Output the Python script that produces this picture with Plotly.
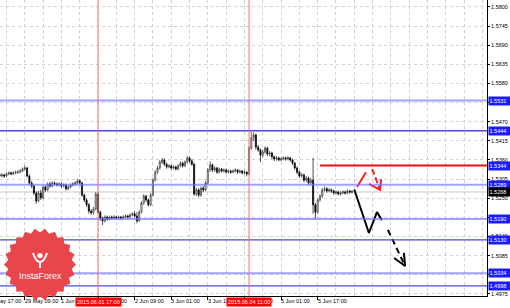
import math
import plotly.graph_objects as go

# ---------------- data ----------------
START_BAR = 5
FIRST_OPEN = 1.5318
CLOSE = [
    1.5314, 1.5317, 1.5314, 1.5320, 1.5323, 1.5320, 1.5323, 1.5325, 1.5325, 1.5328,
    1.5334, 1.5337, 1.5314, 1.5294, 1.5285, 1.5265, 1.5242, 1.5265, 1.5251, 1.5282,
    1.5274, 1.5291, 1.5285, 1.5294, 1.5291, 1.5288, 1.5291, 1.5285, 1.5288, 1.5277,
    1.5282, 1.5288, 1.5291, 1.5294, 1.5300, 1.5294, 1.5259, 1.5245, 1.5231, 1.5213,
    1.5208, 1.5219, 1.5262, 1.5210, 1.5193, 1.5185, 1.5196, 1.5190, 1.5196, 1.5193,
    1.5196, 1.5193, 1.5196, 1.5193, 1.5196, 1.5199, 1.5196, 1.5202, 1.5205, 1.5199,
    1.5185, 1.5210, 1.5236, 1.5256, 1.5245, 1.5231, 1.5259, 1.5302, 1.5325, 1.5337,
    1.5354, 1.5360, 1.5348, 1.5340, 1.5343, 1.5337, 1.5340, 1.5334, 1.5343, 1.5351,
    1.5343, 1.5354, 1.5366, 1.5357, 1.5348, 1.5262, 1.5274, 1.5259, 1.5279, 1.5274,
    1.5294, 1.5331, 1.5346, 1.5331, 1.5337, 1.5325, 1.5334, 1.5328, 1.5331, 1.5325,
    1.5328, 1.5325, 1.5328, 1.5331, 1.5325, 1.5328, 1.5323, 1.5325, 1.5320, 1.5394,
    1.5423, 1.5432, 1.5397, 1.5389, 1.5374, 1.5383, 1.5394, 1.5377, 1.5380, 1.5369,
    1.5363, 1.5366, 1.5360, 1.5363, 1.5366, 1.5363, 1.5366, 1.5360, 1.5351, 1.5337,
    1.5325, 1.5314, 1.5317, 1.5302, 1.5308, 1.5294, 1.5302, 1.5231, 1.5210, 1.5245,
    1.5256, 1.5274, 1.5277, 1.5271, 1.5274, 1.5271, 1.5265, 1.5268, 1.5262, 1.5265,
    1.5268, 1.5265, 1.5271, 1.5268, 1.5268,
]
HIGH = [
    1.5323, 1.5322, 1.5320, 1.5325, 1.5327, 1.5326, 1.5328, 1.5330, 1.5331, 1.5334,
    1.5339, 1.5345, 1.5340, 1.5318, 1.5299, 1.5290, 1.5270, 1.5271, 1.5274, 1.5288,
    1.5287, 1.5296, 1.5297, 1.5299, 1.5298, 1.5295, 1.5296, 1.5295, 1.5293, 1.5292,
    1.5287, 1.5293, 1.5296, 1.5299, 1.5306, 1.5304, 1.5297, 1.5263, 1.5250, 1.5236,
    1.5218, 1.5225, 1.5268, 1.5266, 1.5214, 1.5197, 1.5201, 1.5200, 1.5200, 1.5200,
    1.5201, 1.5200, 1.5200, 1.5199, 1.5201, 1.5203, 1.5203, 1.5206, 1.5210, 1.5212,
    1.5210, 1.5216, 1.5242, 1.5262, 1.5260, 1.5249, 1.5265, 1.5308, 1.5331, 1.5343,
    1.5360, 1.5366, 1.5364, 1.5352, 1.5348, 1.5347, 1.5345, 1.5344, 1.5348, 1.5356,
    1.5355, 1.5359, 1.5372, 1.5370, 1.5362, 1.5352, 1.5280, 1.5279, 1.5284, 1.5285,
    1.5300, 1.5337, 1.5357, 1.5350, 1.5342, 1.5340, 1.5338, 1.5337, 1.5336, 1.5335,
    1.5333, 1.5332, 1.5333, 1.5336, 1.5334, 1.5333, 1.5331, 1.5330, 1.5328, 1.5400,
    1.5441, 1.5440, 1.5436, 1.5403, 1.5393, 1.5389, 1.5399, 1.5398, 1.5386, 1.5384,
    1.5373, 1.5371, 1.5370, 1.5368, 1.5370, 1.5370, 1.5372, 1.5369, 1.5364, 1.5355,
    1.5341, 1.5329, 1.5323, 1.5321, 1.5314, 1.5312, 1.5308, 1.5366, 1.5236, 1.5250,
    1.5262, 1.5280, 1.5284, 1.5282, 1.5280, 1.5278, 1.5275, 1.5273, 1.5271, 1.5270,
    1.5273, 1.5272, 1.5276, 1.5274, 1.5273,
]
LOW = [
    1.5309, 1.5310, 1.5308, 1.5311, 1.5316, 1.5316, 1.5317, 1.5319, 1.5320, 1.5322,
    1.5325, 1.5330, 1.5310, 1.5289, 1.5279, 1.5259, 1.5234, 1.5238, 1.5245, 1.5247,
    1.5268, 1.5270, 1.5280, 1.5281, 1.5286, 1.5284, 1.5284, 1.5280, 1.5281, 1.5272,
    1.5273, 1.5279, 1.5284, 1.5287, 1.5290, 1.5289, 1.5254, 1.5239, 1.5225, 1.5206,
    1.5202, 1.5203, 1.5215, 1.5205, 1.5185, 1.5173, 1.5180, 1.5185, 1.5186, 1.5189,
    1.5189, 1.5188, 1.5189, 1.5188, 1.5189, 1.5192, 1.5191, 1.5193, 1.5198, 1.5195,
    1.5178, 1.5182, 1.5206, 1.5231, 1.5239, 1.5226, 1.5228, 1.5254, 1.5298, 1.5320,
    1.5332, 1.5349, 1.5343, 1.5335, 1.5336, 1.5332, 1.5333, 1.5330, 1.5330, 1.5339,
    1.5338, 1.5339, 1.5350, 1.5352, 1.5343, 1.5257, 1.5256, 1.5253, 1.5254, 1.5268,
    1.5270, 1.5290, 1.5326, 1.5325, 1.5326, 1.5320, 1.5321, 1.5324, 1.5324, 1.5321,
    1.5321, 1.5320, 1.5322, 1.5324, 1.5320, 1.5321, 1.5318, 1.5318, 1.5313, 1.5316,
    1.5389, 1.5415, 1.5390, 1.5383, 1.5354, 1.5368, 1.5378, 1.5371, 1.5370, 1.5363,
    1.5357, 1.5358, 1.5356, 1.5356, 1.5359, 1.5358, 1.5359, 1.5355, 1.5346, 1.5332,
    1.5319, 1.5308, 1.5309, 1.5296, 1.5297, 1.5288, 1.5289, 1.5205, 1.5190, 1.5205,
    1.5240, 1.5251, 1.5269, 1.5266, 1.5267, 1.5266, 1.5260, 1.5261, 1.5258, 1.5258,
    1.5261, 1.5260, 1.5261, 1.5263, 1.5264,
]
OPEN = [FIRST_OPEN] + CLOSE[:-1]
BARS = list(range(START_BAR, START_BAR + len(CLOSE)))

LEVELS_LIGHT = [1.5531, 1.5289, 1.5190, 1.5034]
LEVELS_DARK = [1.5444, 1.5130, 1.4998]
CURRENT_PRICE = 1.5268
RESIST_LEVEL = 1.5344
RESIST_START_BAR = 145

VLINE_BARS = [48, 114]
VLINE_LABELS = ["2015.06.01 17:00", "2015.06.04 11:00"]

X_TICK_BARS = [0, 16, 32, 48, 64, 80, 96, 112, 128, 144]
X_TICK_LABELS = ["28 May 17:00", "29 May 09:00", "1 Jun 01:00", "1 Jun 17:00",
                 "2 Jun 09:00", "3 Jun 01:00", "3 Jun 17:00", "4 Jun 09:00",
                 "5 Jun 01:00", "5 Jun 17:00"]
Y_TICKS = [1.5800, 1.5745, 1.5690, 1.5635, 1.5580, 1.5525, 1.5470, 1.5415,
           1.5360, 1.5305, 1.5250, 1.5195, 1.5140, 1.5085, 1.5030, 1.4975]

# forecast sketch (bar index, price)
PROJ_SOLID_X = [160, 166.4, 169.9, 172.1]
PROJ_SOLID_Y = [1.5275, 1.5150, 1.5210, 1.5187]
PROJ_DASH_X = [174.7, 182.2]
PROJ_DASH_Y = [1.5159, 1.5055]
PROJ_HEAD_X = [177.4, 182.2, 181.7]
PROJ_HEAD_Y = [1.5078, 1.5055, 1.5093]
RED_UP_X = [161.2, 165.1]
RED_UP_Y = [1.5282, 1.5325]
RED_DOWN_X = [167.8, 171.3]
RED_DOWN_Y = [1.5334, 1.5274]
RED_HEAD_X = [166.4, 171.3, 171.7]
RED_HEAD_Y = [1.5291, 1.5274, 1.5305]

X_RANGE = [5.17, 218.0]
Y_RANGE = [1.49688, 1.58201]

FONT = "Liberation Sans"
W, H = 510, 308
ML, MR, MT, MB = 0, 23, 0, 12
PW, PH = W - ML - MR, H - MT - MB

fig = go.Figure()

fig.add_trace(go.Candlestick(
    x=BARS, open=OPEN, high=HIGH, low=LOW, close=CLOSE,
    increasing=dict(line=dict(color="#303030", width=0.7), fillcolor="#ffffff"),
    decreasing=dict(line=dict(color="#000000", width=0.7), fillcolor="#000000"),
    whiskerwidth=0, showlegend=False, hoverinfo="skip",
))

# forecast sketch lines
fig.add_trace(go.Scatter(x=PROJ_SOLID_X, y=PROJ_SOLID_Y, mode="lines",
                         line=dict(color="black", width=2), showlegend=False, hoverinfo="skip"))
fig.add_trace(go.Scatter(x=PROJ_DASH_X, y=PROJ_DASH_Y, mode="lines",
                         line=dict(color="black", width=2, dash="6px,4px"), showlegend=False, hoverinfo="skip"))
fig.add_trace(go.Scatter(x=PROJ_HEAD_X, y=PROJ_HEAD_Y, mode="lines",
                         line=dict(color="black", width=2), showlegend=False, hoverinfo="skip"))
fig.add_trace(go.Scatter(x=RED_UP_X, y=RED_UP_Y, mode="lines",
                         line=dict(color="#ff2020", width=2), showlegend=False, hoverinfo="skip"))
fig.add_trace(go.Scatter(x=RED_DOWN_X, y=RED_DOWN_Y, mode="lines",
                         line=dict(color="#ff2020", width=2, dash="6px,3px"), showlegend=False, hoverinfo="skip"))
fig.add_trace(go.Scatter(x=RED_HEAD_X, y=RED_HEAD_Y, mode="lines",
                         line=dict(color="#ff2020", width=2), showlegend=False, hoverinfo="skip"))

shapes = []
# current price line
shapes.append(dict(type="line", xref="paper", x0=0, x1=1, yref="y", y0=CURRENT_PRICE, y1=CURRENT_PRICE,
                   line=dict(color="#c8c8c8", width=1), layer="below"))
for lv in LEVELS_LIGHT:
    shapes.append(dict(type="line", xref="paper", x0=0, x1=1, yref="y", y0=lv, y1=lv,
                       line=dict(color="rgba(110,110,255,0.65)", width=2), layer="above"))
for lv in LEVELS_DARK:
    shapes.append(dict(type="line", xref="paper", x0=0, x1=1, yref="y", y0=lv, y1=lv,
                       line=dict(color="#4a4ad8", width=1.3), layer="above"))
shapes.append(dict(type="line", xref="x", x0=RESIST_START_BAR, x1=X_RANGE[1], yref="y",
                   y0=RESIST_LEVEL, y1=RESIST_LEVEL, line=dict(color="#e81010", width=2), layer="above"))
for b in VLINE_BARS:
    shapes.append(dict(type="line", xref="x", x0=b, x1=b, yref="paper", y0=0, y1=1,
                       line=dict(color="rgba(255,110,110,0.5)", width=2), layer="above"))

# InstaForex badge (pixel geometry -> paper)
def px2paper(px, py):
    return px / PW, (PH - py) / PH

cx, cy, R_out, R_in, N = 40, 264.5, 36, 32, 22
pts = []
for i in range(2 * N):
    a = math.pi * i / N
    r = R_out if i % 2 == 0 else R_in
    pts.append(px2paper(cx + r * math.cos(a), cy + r * math.sin(a)))
path = "M " + " L ".join(f"{x:.5f},{y:.5f}" for x, y in pts) + " Z"
shapes.append(dict(type="path", xref="paper", yref="paper", path=path,
                   fillcolor="#e8464a", line=dict(width=0), layer="above"))
# icon
hx, hy = px2paper(40, 255.5)
r = 2.6
shapes.append(dict(type="circle", xref="paper", yref="paper",
                   x0=hx - r / PW, x1=hx + r / PW, y0=hy - r / PH, y1=hy + r / PH,
                   fillcolor="white", line=dict(width=0), layer="above"))
a1 = px2paper(33, 253); a2 = px2paper(36, 262); a3 = px2paper(40, 262)
a4 = px2paper(44, 262); a5 = px2paper(47, 253); s1 = px2paper(40, 268)
icon_path = (f"M {a1[0]:.5f},{a1[1]:.5f} Q {a2[0]:.5f},{a2[1]:.5f} {a3[0]:.5f},{a3[1]:.5f} "
             f"Q {a4[0]:.5f},{a4[1]:.5f} {a5[0]:.5f},{a5[1]:.5f} M {a3[0]:.5f},{a3[1]:.5f} L {s1[0]:.5f},{s1[1]:.5f}")
shapes.append(dict(type="path", xref="paper", yref="paper", path=icon_path,
                   line=dict(color="white", width=2), layer="above"))

annotations = []
tx, ty = px2paper(40, 275.5)
annotations.append(dict(xref="paper", yref="paper", x=tx, y=ty, text="InstaForex", showarrow=False,
                        font=dict(family=FONT, size=9, color="white"), xanchor="center", yanchor="middle"))

def bar2paper(b):
    return (b - X_RANGE[0]) / (X_RANGE[1] - X_RANGE[0])

for b, lab in zip(X_TICK_BARS, X_TICK_LABELS):
    annotations.append(dict(xref="paper", yref="paper", x=bar2paper(b), y=0, text=lab, showarrow=False,
                            xanchor="left", yanchor="top", yshift=-1, xshift=-1, borderpad=0,
                            font=dict(family=FONT, size=5.5, color="black")))
for b, lab in zip(VLINE_BARS, VLINE_LABELS):
    annotations.append(dict(xref="x", yref="paper", x=b, y=0, text=lab, showarrow=False,
                            xanchor="center", yanchor="top", yshift=-1, borderpad=1,
                            bgcolor="#ff0000", font=dict(family=FONT, size=5.5, color="white")))

for lv in LEVELS_LIGHT + LEVELS_DARK + [RESIST_LEVEL]:
    annotations.append(dict(xref="paper", yref="y", x=1, y=lv, text=f"{lv:.4f}", showarrow=False,
                            xanchor="left", yanchor="middle", xshift=1, width=20, height=7,
                            align="left", borderpad=0.5, bgcolor="#1c1cff",
                            font=dict(family=FONT, size=5.5, color="white")))
annotations.append(dict(xref="paper", yref="y", x=1, y=CURRENT_PRICE, text=f"{CURRENT_PRICE:.4f}",
                        showarrow=False, xanchor="left", yanchor="middle", xshift=1, width=20, height=7,
                        align="left", borderpad=0.5, bgcolor="#000000",
                        font=dict(family=FONT, size=5.5, color="white")))

grid_col = "#d2d2d2"
fig.update_layout(
    width=W, height=H,
    margin=dict(l=ML, r=MR, t=MT, b=MB, pad=0),
    paper_bgcolor="white", plot_bgcolor="white",
    shapes=shapes, annotations=annotations,
    xaxis=dict(range=X_RANGE, rangeslider=dict(visible=False), tickmode="array",
               tickvals=X_TICK_BARS, showticklabels=False, ticks="outside", ticklen=3,
               tickcolor="black", showline=True, linecolor="black", linewidth=1,
               showgrid=True, gridcolor=grid_col, griddash="3px,3px", gridwidth=1, zeroline=False,
               minor=dict(tickmode="linear", tick0=0, dtick=8, showgrid=True, gridcolor=grid_col,
                          griddash="3px,3px", gridwidth=1, ticks=""),
               fixedrange=True),
    yaxis=dict(range=Y_RANGE, side="right", tickmode="array", tickvals=Y_TICKS,
               ticktext=[f"{v:.4f}" for v in Y_TICKS], ticks="outside", ticklen=2,
               tickcolor="black", tickfont=dict(family=FONT, size=5.5, color="black"),
               showline=True, linecolor="black", linewidth=1, showgrid=True,
               gridcolor=grid_col, griddash="3px,3px", gridwidth=1, zeroline=False, fixedrange=True),
    showlegend=False,
)

fig.write_html("out.html")
